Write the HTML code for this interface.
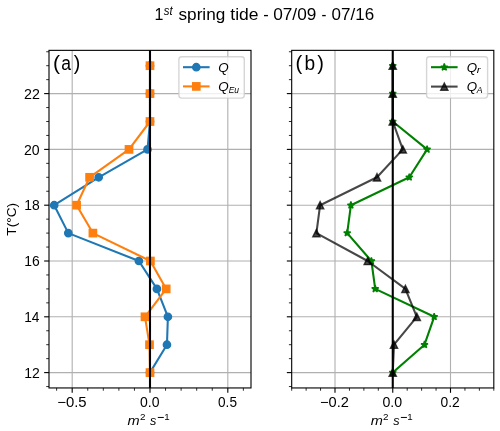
<!DOCTYPE html>
<html><head><meta charset="utf-8"><title>1st spring tide</title>
<style>
html,body{margin:0;padding:0;background:#fff;}
body{width:500px;height:431px;overflow:hidden;font-family:"Liberation Sans", sans-serif;}
svg{display:block;will-change:transform;}
</style></head><body>
<svg width="500" height="431" viewBox="0 0 500 431" font-family="'Liberation Sans', sans-serif">
<rect width="500" height="431" fill="#fff"/>
<line x1="72.19" y1="50.35" x2="72.19" y2="387.95" stroke="#b0b0b0" stroke-width="1.11"/>
<line x1="150" y1="50.35" x2="150" y2="387.95" stroke="#b0b0b0" stroke-width="1.11"/>
<line x1="227.81" y1="50.35" x2="227.81" y2="387.95" stroke="#b0b0b0" stroke-width="1.11"/>
<line x1="49" y1="372.6" x2="251" y2="372.6" stroke="#b0b0b0" stroke-width="1.11"/>
<line x1="49" y1="316.8" x2="251" y2="316.8" stroke="#b0b0b0" stroke-width="1.11"/>
<line x1="49" y1="261" x2="251" y2="261" stroke="#b0b0b0" stroke-width="1.11"/>
<line x1="49" y1="205.2" x2="251" y2="205.2" stroke="#b0b0b0" stroke-width="1.11"/>
<line x1="49" y1="149.4" x2="251" y2="149.4" stroke="#b0b0b0" stroke-width="1.11"/>
<line x1="49" y1="93.6" x2="251" y2="93.6" stroke="#b0b0b0" stroke-width="1.11"/>
<line x1="335" y1="50.35" x2="335" y2="387.95" stroke="#b0b0b0" stroke-width="1.11"/>
<line x1="392.75" y1="50.35" x2="392.75" y2="387.95" stroke="#b0b0b0" stroke-width="1.11"/>
<line x1="450.5" y1="50.35" x2="450.5" y2="387.95" stroke="#b0b0b0" stroke-width="1.11"/>
<line x1="291.69" y1="372.6" x2="493.81" y2="372.6" stroke="#b0b0b0" stroke-width="1.11"/>
<line x1="291.69" y1="316.8" x2="493.81" y2="316.8" stroke="#b0b0b0" stroke-width="1.11"/>
<line x1="291.69" y1="261" x2="493.81" y2="261" stroke="#b0b0b0" stroke-width="1.11"/>
<line x1="291.69" y1="205.2" x2="493.81" y2="205.2" stroke="#b0b0b0" stroke-width="1.11"/>
<line x1="291.69" y1="149.4" x2="493.81" y2="149.4" stroke="#b0b0b0" stroke-width="1.11"/>
<line x1="291.69" y1="93.6" x2="493.81" y2="93.6" stroke="#b0b0b0" stroke-width="1.11"/>
<polyline points="150,372.6 166.95,344.7 167.9,316.8 156.9,288.9 138.9,261 68.3,233.1 54.2,205.2 98.7,177.3 147.5,149.4 150,121.5 150,93.6 150,65.7" fill="none" stroke="#1f77b4" stroke-width="2.08" stroke-linejoin="round" stroke-linecap="square"/>
<circle cx="150" cy="372.6" r="3.65" fill="#1f77b4" stroke="#1f77b4" stroke-width="1.39"/>
<circle cx="166.95" cy="344.7" r="3.65" fill="#1f77b4" stroke="#1f77b4" stroke-width="1.39"/>
<circle cx="167.9" cy="316.8" r="3.65" fill="#1f77b4" stroke="#1f77b4" stroke-width="1.39"/>
<circle cx="156.9" cy="288.9" r="3.65" fill="#1f77b4" stroke="#1f77b4" stroke-width="1.39"/>
<circle cx="138.9" cy="261" r="3.65" fill="#1f77b4" stroke="#1f77b4" stroke-width="1.39"/>
<circle cx="68.3" cy="233.1" r="3.65" fill="#1f77b4" stroke="#1f77b4" stroke-width="1.39"/>
<circle cx="54.2" cy="205.2" r="3.65" fill="#1f77b4" stroke="#1f77b4" stroke-width="1.39"/>
<circle cx="98.7" cy="177.3" r="3.65" fill="#1f77b4" stroke="#1f77b4" stroke-width="1.39"/>
<circle cx="147.5" cy="149.4" r="3.65" fill="#1f77b4" stroke="#1f77b4" stroke-width="1.39"/>
<circle cx="150" cy="121.5" r="3.65" fill="#1f77b4" stroke="#1f77b4" stroke-width="1.39"/>
<circle cx="150" cy="93.6" r="3.65" fill="#1f77b4" stroke="#1f77b4" stroke-width="1.39"/>
<circle cx="150" cy="65.7" r="3.65" fill="#1f77b4" stroke="#1f77b4" stroke-width="1.39"/>
<polyline points="150,372.6 149.5,344.7 145,316.8 166.2,288.9 150.4,261 92.9,233.1 76.6,205.2 89.6,177.3 129,149.4 150,121.5 150,93.6 150,65.7" fill="none" stroke="#ff7f0e" stroke-width="2.08" stroke-linejoin="round" stroke-linecap="square"/>
<rect x="146.35" y="368.95" width="7.3" height="7.3" fill="#ff7f0e" stroke="#ff7f0e" stroke-width="1.39" stroke-linejoin="miter"/>
<rect x="145.85" y="341.05" width="7.3" height="7.3" fill="#ff7f0e" stroke="#ff7f0e" stroke-width="1.39" stroke-linejoin="miter"/>
<rect x="141.35" y="313.15" width="7.3" height="7.3" fill="#ff7f0e" stroke="#ff7f0e" stroke-width="1.39" stroke-linejoin="miter"/>
<rect x="162.55" y="285.25" width="7.3" height="7.3" fill="#ff7f0e" stroke="#ff7f0e" stroke-width="1.39" stroke-linejoin="miter"/>
<rect x="146.75" y="257.35" width="7.3" height="7.3" fill="#ff7f0e" stroke="#ff7f0e" stroke-width="1.39" stroke-linejoin="miter"/>
<rect x="89.25" y="229.45" width="7.3" height="7.3" fill="#ff7f0e" stroke="#ff7f0e" stroke-width="1.39" stroke-linejoin="miter"/>
<rect x="72.95" y="201.55" width="7.3" height="7.3" fill="#ff7f0e" stroke="#ff7f0e" stroke-width="1.39" stroke-linejoin="miter"/>
<rect x="85.95" y="173.65" width="7.3" height="7.3" fill="#ff7f0e" stroke="#ff7f0e" stroke-width="1.39" stroke-linejoin="miter"/>
<rect x="125.35" y="145.75" width="7.3" height="7.3" fill="#ff7f0e" stroke="#ff7f0e" stroke-width="1.39" stroke-linejoin="miter"/>
<rect x="146.35" y="117.85" width="7.3" height="7.3" fill="#ff7f0e" stroke="#ff7f0e" stroke-width="1.39" stroke-linejoin="miter"/>
<rect x="146.35" y="89.95" width="7.3" height="7.3" fill="#ff7f0e" stroke="#ff7f0e" stroke-width="1.39" stroke-linejoin="miter"/>
<rect x="146.35" y="62.05" width="7.3" height="7.3" fill="#ff7f0e" stroke="#ff7f0e" stroke-width="1.39" stroke-linejoin="miter"/>
<line x1="150" y1="50.35" x2="150" y2="387.95" stroke="#000" stroke-width="2.08"/>
<polyline points="392.75,372.6 424.5,344.7 434.2,316.8 375.2,288.9 371.4,261 347.2,233.1 350.9,205.2 409.3,177.3 427.1,149.4 392.75,121.5 392.75,93.6 392.75,65.7" fill="none" stroke="#008000" stroke-width="2.08" stroke-linejoin="round" stroke-linecap="square"/>
<polygon points="392.75,368.95 391.93,371.48 389.28,371.48 391.42,373.04 390.6,375.56 392.75,374 394.9,375.56 394.08,373.04 396.22,371.48 393.57,371.48" fill="#008000" stroke="#008000" stroke-width="1.39" stroke-linejoin="bevel"/>
<polygon points="424.5,341.05 423.68,343.58 421.03,343.58 423.17,345.13 422.35,347.66 424.5,346.1 426.65,347.66 425.83,345.13 427.97,343.58 425.32,343.58" fill="#008000" stroke="#008000" stroke-width="1.39" stroke-linejoin="bevel"/>
<polygon points="434.2,313.15 433.38,315.67 430.73,315.67 432.87,317.23 432.05,319.76 434.2,318.2 436.35,319.76 435.53,317.23 437.67,315.67 435.02,315.67" fill="#008000" stroke="#008000" stroke-width="1.39" stroke-linejoin="bevel"/>
<polygon points="375.2,285.25 374.38,287.77 371.73,287.77 373.87,289.33 373.05,291.85 375.2,290.3 377.35,291.85 376.53,289.33 378.67,287.77 376.02,287.77" fill="#008000" stroke="#008000" stroke-width="1.39" stroke-linejoin="bevel"/>
<polygon points="371.4,257.35 370.58,259.87 367.93,259.87 370.07,261.43 369.25,263.95 371.4,262.4 373.55,263.95 372.73,261.43 374.87,259.87 372.22,259.87" fill="#008000" stroke="#008000" stroke-width="1.39" stroke-linejoin="bevel"/>
<polygon points="347.2,229.45 346.38,231.97 343.73,231.97 345.87,233.53 345.05,236.05 347.2,234.49 349.35,236.05 348.53,233.53 350.67,231.97 348.02,231.97" fill="#008000" stroke="#008000" stroke-width="1.39" stroke-linejoin="bevel"/>
<polygon points="350.9,201.55 350.08,204.07 347.43,204.07 349.57,205.63 348.75,208.15 350.9,206.59 353.05,208.15 352.23,205.63 354.37,204.07 351.72,204.07" fill="#008000" stroke="#008000" stroke-width="1.39" stroke-linejoin="bevel"/>
<polygon points="409.3,173.65 408.48,176.17 405.83,176.17 407.97,177.73 407.15,180.25 409.3,178.69 411.45,180.25 410.63,177.73 412.77,176.17 410.12,176.17" fill="#008000" stroke="#008000" stroke-width="1.39" stroke-linejoin="bevel"/>
<polygon points="427.1,145.75 426.28,148.27 423.63,148.27 425.77,149.83 424.95,152.35 427.1,150.79 429.25,152.35 428.43,149.83 430.57,148.27 427.92,148.27" fill="#008000" stroke="#008000" stroke-width="1.39" stroke-linejoin="bevel"/>
<polygon points="392.75,117.85 391.93,120.37 389.28,120.37 391.42,121.93 390.6,124.45 392.75,122.89 394.9,124.45 394.08,121.93 396.22,120.37 393.57,120.37" fill="#008000" stroke="#008000" stroke-width="1.39" stroke-linejoin="bevel"/>
<polygon points="392.75,89.95 391.93,92.47 389.28,92.47 391.42,94.03 390.6,96.55 392.75,94.99 394.9,96.55 394.08,94.03 396.22,92.47 393.57,92.47" fill="#008000" stroke="#008000" stroke-width="1.39" stroke-linejoin="bevel"/>
<polygon points="392.75,62.05 391.93,64.57 389.28,64.57 391.42,66.13 390.6,68.65 392.75,67.09 394.9,68.65 394.08,66.13 396.22,64.57 393.57,64.57" fill="#008000" stroke="#008000" stroke-width="1.39" stroke-linejoin="bevel"/>
<polyline points="392.75,372.6 394,344.7 416.8,316.8 405.4,288.9 367.7,261 316.4,233.1 320.1,205.2 377,177.3 402.8,149.4 392.75,121.5 392.75,93.6 392.75,65.7" fill="none" stroke="#000" stroke-width="2.08" stroke-linejoin="round" stroke-linecap="square" stroke-opacity="0.72"/>
<polygon points="392.75,368.95 389.1,376.25 396.4,376.25" fill="#000" stroke="#000" stroke-width="1.39" stroke-linejoin="miter" fill-opacity="0.72" stroke-opacity="0.72"/>
<polygon points="394,341.05 390.35,348.35 397.65,348.35" fill="#000" stroke="#000" stroke-width="1.39" stroke-linejoin="miter" fill-opacity="0.72" stroke-opacity="0.72"/>
<polygon points="416.8,313.15 413.15,320.45 420.45,320.45" fill="#000" stroke="#000" stroke-width="1.39" stroke-linejoin="miter" fill-opacity="0.72" stroke-opacity="0.72"/>
<polygon points="405.4,285.25 401.75,292.55 409.05,292.55" fill="#000" stroke="#000" stroke-width="1.39" stroke-linejoin="miter" fill-opacity="0.72" stroke-opacity="0.72"/>
<polygon points="367.7,257.35 364.05,264.65 371.35,264.65" fill="#000" stroke="#000" stroke-width="1.39" stroke-linejoin="miter" fill-opacity="0.72" stroke-opacity="0.72"/>
<polygon points="316.4,229.45 312.75,236.75 320.05,236.75" fill="#000" stroke="#000" stroke-width="1.39" stroke-linejoin="miter" fill-opacity="0.72" stroke-opacity="0.72"/>
<polygon points="320.1,201.55 316.45,208.85 323.75,208.85" fill="#000" stroke="#000" stroke-width="1.39" stroke-linejoin="miter" fill-opacity="0.72" stroke-opacity="0.72"/>
<polygon points="377,173.65 373.35,180.95 380.65,180.95" fill="#000" stroke="#000" stroke-width="1.39" stroke-linejoin="miter" fill-opacity="0.72" stroke-opacity="0.72"/>
<polygon points="402.8,145.75 399.15,153.05 406.45,153.05" fill="#000" stroke="#000" stroke-width="1.39" stroke-linejoin="miter" fill-opacity="0.72" stroke-opacity="0.72"/>
<polygon points="392.75,117.85 389.1,125.15 396.4,125.15" fill="#000" stroke="#000" stroke-width="1.39" stroke-linejoin="miter" fill-opacity="0.72" stroke-opacity="0.72"/>
<polygon points="392.75,89.95 389.1,97.25 396.4,97.25" fill="#000" stroke="#000" stroke-width="1.39" stroke-linejoin="miter" fill-opacity="0.72" stroke-opacity="0.72"/>
<polygon points="392.75,62.05 389.1,69.35 396.4,69.35" fill="#000" stroke="#000" stroke-width="1.39" stroke-linejoin="miter" fill-opacity="0.72" stroke-opacity="0.72"/>
<line x1="392.75" y1="50.35" x2="392.75" y2="387.95" stroke="#000" stroke-width="2.08"/>
<line x1="72.19" y1="387.95" x2="72.19" y2="392.81" stroke="#000" stroke-width="1.11"/>
<line x1="150" y1="387.95" x2="150" y2="392.81" stroke="#000" stroke-width="1.11"/>
<line x1="227.81" y1="387.95" x2="227.81" y2="392.81" stroke="#000" stroke-width="1.11"/>
<line x1="56.63" y1="387.95" x2="56.63" y2="390.73" stroke="#000" stroke-width="0.83"/>
<line x1="87.75" y1="387.95" x2="87.75" y2="390.73" stroke="#000" stroke-width="0.83"/>
<line x1="103.31" y1="387.95" x2="103.31" y2="390.73" stroke="#000" stroke-width="0.83"/>
<line x1="118.88" y1="387.95" x2="118.88" y2="390.73" stroke="#000" stroke-width="0.83"/>
<line x1="134.44" y1="387.95" x2="134.44" y2="390.73" stroke="#000" stroke-width="0.83"/>
<line x1="165.56" y1="387.95" x2="165.56" y2="390.73" stroke="#000" stroke-width="0.83"/>
<line x1="181.12" y1="387.95" x2="181.12" y2="390.73" stroke="#000" stroke-width="0.83"/>
<line x1="196.69" y1="387.95" x2="196.69" y2="390.73" stroke="#000" stroke-width="0.83"/>
<line x1="212.25" y1="387.95" x2="212.25" y2="390.73" stroke="#000" stroke-width="0.83"/>
<line x1="243.37" y1="387.95" x2="243.37" y2="390.73" stroke="#000" stroke-width="0.83"/>
<line x1="49" y1="372.6" x2="44.14" y2="372.6" stroke="#000" stroke-width="1.11"/>
<line x1="49" y1="316.8" x2="44.14" y2="316.8" stroke="#000" stroke-width="1.11"/>
<line x1="49" y1="261" x2="44.14" y2="261" stroke="#000" stroke-width="1.11"/>
<line x1="49" y1="205.2" x2="44.14" y2="205.2" stroke="#000" stroke-width="1.11"/>
<line x1="49" y1="149.4" x2="44.14" y2="149.4" stroke="#000" stroke-width="1.11"/>
<line x1="49" y1="93.6" x2="44.14" y2="93.6" stroke="#000" stroke-width="1.11"/>
<line x1="49" y1="386.55" x2="46.22" y2="386.55" stroke="#000" stroke-width="0.83"/>
<line x1="49" y1="358.65" x2="46.22" y2="358.65" stroke="#000" stroke-width="0.83"/>
<line x1="49" y1="344.7" x2="46.22" y2="344.7" stroke="#000" stroke-width="0.83"/>
<line x1="49" y1="330.75" x2="46.22" y2="330.75" stroke="#000" stroke-width="0.83"/>
<line x1="49" y1="302.85" x2="46.22" y2="302.85" stroke="#000" stroke-width="0.83"/>
<line x1="49" y1="288.9" x2="46.22" y2="288.9" stroke="#000" stroke-width="0.83"/>
<line x1="49" y1="274.95" x2="46.22" y2="274.95" stroke="#000" stroke-width="0.83"/>
<line x1="49" y1="247.05" x2="46.22" y2="247.05" stroke="#000" stroke-width="0.83"/>
<line x1="49" y1="233.1" x2="46.22" y2="233.1" stroke="#000" stroke-width="0.83"/>
<line x1="49" y1="219.15" x2="46.22" y2="219.15" stroke="#000" stroke-width="0.83"/>
<line x1="49" y1="191.25" x2="46.22" y2="191.25" stroke="#000" stroke-width="0.83"/>
<line x1="49" y1="177.3" x2="46.22" y2="177.3" stroke="#000" stroke-width="0.83"/>
<line x1="49" y1="163.35" x2="46.22" y2="163.35" stroke="#000" stroke-width="0.83"/>
<line x1="49" y1="135.45" x2="46.22" y2="135.45" stroke="#000" stroke-width="0.83"/>
<line x1="49" y1="121.5" x2="46.22" y2="121.5" stroke="#000" stroke-width="0.83"/>
<line x1="49" y1="107.55" x2="46.22" y2="107.55" stroke="#000" stroke-width="0.83"/>
<line x1="49" y1="79.65" x2="46.22" y2="79.65" stroke="#000" stroke-width="0.83"/>
<line x1="49" y1="65.7" x2="46.22" y2="65.7" stroke="#000" stroke-width="0.83"/>
<line x1="49" y1="51.75" x2="46.22" y2="51.75" stroke="#000" stroke-width="0.83"/>
<rect x="49" y="50.35" width="202" height="337.6" fill="none" stroke="#000" stroke-width="1.11" stroke-linejoin="miter" stroke-linecap="square"/>
<line x1="335" y1="387.95" x2="335" y2="392.81" stroke="#000" stroke-width="1.11"/>
<line x1="392.75" y1="387.95" x2="392.75" y2="392.81" stroke="#000" stroke-width="1.11"/>
<line x1="450.5" y1="387.95" x2="450.5" y2="392.81" stroke="#000" stroke-width="1.11"/>
<line x1="291.69" y1="387.95" x2="291.69" y2="390.73" stroke="#000" stroke-width="0.83"/>
<line x1="306.13" y1="387.95" x2="306.13" y2="390.73" stroke="#000" stroke-width="0.83"/>
<line x1="320.56" y1="387.95" x2="320.56" y2="390.73" stroke="#000" stroke-width="0.83"/>
<line x1="349.44" y1="387.95" x2="349.44" y2="390.73" stroke="#000" stroke-width="0.83"/>
<line x1="363.88" y1="387.95" x2="363.88" y2="390.73" stroke="#000" stroke-width="0.83"/>
<line x1="378.31" y1="387.95" x2="378.31" y2="390.73" stroke="#000" stroke-width="0.83"/>
<line x1="407.19" y1="387.95" x2="407.19" y2="390.73" stroke="#000" stroke-width="0.83"/>
<line x1="421.62" y1="387.95" x2="421.62" y2="390.73" stroke="#000" stroke-width="0.83"/>
<line x1="436.06" y1="387.95" x2="436.06" y2="390.73" stroke="#000" stroke-width="0.83"/>
<line x1="464.94" y1="387.95" x2="464.94" y2="390.73" stroke="#000" stroke-width="0.83"/>
<line x1="479.37" y1="387.95" x2="479.37" y2="390.73" stroke="#000" stroke-width="0.83"/>
<line x1="493.81" y1="387.95" x2="493.81" y2="390.73" stroke="#000" stroke-width="0.83"/>
<line x1="291.69" y1="372.6" x2="286.83" y2="372.6" stroke="#000" stroke-width="1.11"/>
<line x1="291.69" y1="316.8" x2="286.83" y2="316.8" stroke="#000" stroke-width="1.11"/>
<line x1="291.69" y1="261" x2="286.83" y2="261" stroke="#000" stroke-width="1.11"/>
<line x1="291.69" y1="205.2" x2="286.83" y2="205.2" stroke="#000" stroke-width="1.11"/>
<line x1="291.69" y1="149.4" x2="286.83" y2="149.4" stroke="#000" stroke-width="1.11"/>
<line x1="291.69" y1="93.6" x2="286.83" y2="93.6" stroke="#000" stroke-width="1.11"/>
<line x1="291.69" y1="386.55" x2="288.91" y2="386.55" stroke="#000" stroke-width="0.83"/>
<line x1="291.69" y1="358.65" x2="288.91" y2="358.65" stroke="#000" stroke-width="0.83"/>
<line x1="291.69" y1="344.7" x2="288.91" y2="344.7" stroke="#000" stroke-width="0.83"/>
<line x1="291.69" y1="330.75" x2="288.91" y2="330.75" stroke="#000" stroke-width="0.83"/>
<line x1="291.69" y1="302.85" x2="288.91" y2="302.85" stroke="#000" stroke-width="0.83"/>
<line x1="291.69" y1="288.9" x2="288.91" y2="288.9" stroke="#000" stroke-width="0.83"/>
<line x1="291.69" y1="274.95" x2="288.91" y2="274.95" stroke="#000" stroke-width="0.83"/>
<line x1="291.69" y1="247.05" x2="288.91" y2="247.05" stroke="#000" stroke-width="0.83"/>
<line x1="291.69" y1="233.1" x2="288.91" y2="233.1" stroke="#000" stroke-width="0.83"/>
<line x1="291.69" y1="219.15" x2="288.91" y2="219.15" stroke="#000" stroke-width="0.83"/>
<line x1="291.69" y1="191.25" x2="288.91" y2="191.25" stroke="#000" stroke-width="0.83"/>
<line x1="291.69" y1="177.3" x2="288.91" y2="177.3" stroke="#000" stroke-width="0.83"/>
<line x1="291.69" y1="163.35" x2="288.91" y2="163.35" stroke="#000" stroke-width="0.83"/>
<line x1="291.69" y1="135.45" x2="288.91" y2="135.45" stroke="#000" stroke-width="0.83"/>
<line x1="291.69" y1="121.5" x2="288.91" y2="121.5" stroke="#000" stroke-width="0.83"/>
<line x1="291.69" y1="107.55" x2="288.91" y2="107.55" stroke="#000" stroke-width="0.83"/>
<line x1="291.69" y1="79.65" x2="288.91" y2="79.65" stroke="#000" stroke-width="0.83"/>
<line x1="291.69" y1="65.7" x2="288.91" y2="65.7" stroke="#000" stroke-width="0.83"/>
<line x1="291.69" y1="51.75" x2="288.91" y2="51.75" stroke="#000" stroke-width="0.83"/>
<rect x="291.69" y="50.35" width="202.12" height="337.6" fill="none" stroke="#000" stroke-width="1.11" stroke-linejoin="miter" stroke-linecap="square"/>
<rect x="178.9" y="56.7" width="65.4" height="41.4" rx="2.8" ry="2.8" fill="#fff" fill-opacity="0.8" stroke="#cccccc" stroke-opacity="0.8" stroke-width="1.39"/>
<line x1="183" y1="67.2" x2="209.6" y2="67.2" stroke="#1f77b4" stroke-width="2.08"/>
<circle cx="196.3" cy="67.2" r="3.65" fill="#1f77b4" stroke="#1f77b4" stroke-width="1.39"/>
<line x1="183" y1="86.4" x2="209.6" y2="86.4" stroke="#ff7f0e" stroke-width="2.08"/>
<rect x="192.65" y="82.75" width="7.3" height="7.3" fill="#ff7f0e" stroke="#ff7f0e" stroke-width="1.39" stroke-linejoin="miter"/>
<rect x="426.6" y="56.7" width="61" height="41.4" rx="2.8" ry="2.8" fill="#fff" fill-opacity="0.8" stroke="#cccccc" stroke-opacity="0.8" stroke-width="1.39"/>
<line x1="431" y1="67.2" x2="457.6" y2="67.2" stroke="#008000" stroke-width="2.08"/>
<polygon points="444.3,63.55 443.48,66.07 440.83,66.07 442.97,67.63 442.15,70.15 444.3,68.59 446.45,70.15 445.63,67.63 447.77,66.07 445.12,66.07" fill="#008000" stroke="#008000" stroke-width="1.39" stroke-linejoin="bevel"/>
<line x1="431" y1="86.6" x2="457.6" y2="86.6" stroke="#000" stroke-width="2.08" stroke-opacity="0.72"/>
<polygon points="444.3,82.95 440.65,90.25 447.95,90.25" fill="#000" stroke="#000" stroke-width="1.39" stroke-linejoin="miter" fill-opacity="0.72" stroke-opacity="0.72"/>
<text x="24.24" y="377.75" font-size="13.75" textLength="15.57" lengthAdjust="spacingAndGlyphs">12</text>
<text x="24.26" y="321.95" font-size="13.75" textLength="15.24" lengthAdjust="spacingAndGlyphs">14</text>
<text x="24.24" y="266.15" font-size="13.75" textLength="15.47" lengthAdjust="spacingAndGlyphs">16</text>
<text x="24.24" y="210.35" font-size="13.75" textLength="15.46" lengthAdjust="spacingAndGlyphs">18</text>
<text x="24" y="154.55" font-size="13.75" textLength="15.66" lengthAdjust="spacingAndGlyphs">20</text>
<text x="23.99" y="98.75" font-size="13.75" textLength="15.83" lengthAdjust="spacingAndGlyphs">22</text>
<text x="57.27" y="407" font-size="14.1" textLength="29.36" lengthAdjust="spacingAndGlyphs">−0.5</text>
<text x="140.05" y="407" font-size="14.1" textLength="19.5" lengthAdjust="spacingAndGlyphs">0.0</text>
<text x="218.07" y="407" font-size="14.1" textLength="18.9" lengthAdjust="spacingAndGlyphs">0.5</text>
<text x="320.08" y="407" font-size="14.1" textLength="28.85" lengthAdjust="spacingAndGlyphs">−0.2</text>
<text x="382.45" y="407" font-size="14.1" textLength="19.71" lengthAdjust="spacingAndGlyphs">0.0</text>
<text x="440.46" y="407" font-size="14.1" textLength="19.23" lengthAdjust="spacingAndGlyphs">0.2</text>
<text x="127.55" y="425" font-size="13.4" font-style="italic" textLength="12.12" lengthAdjust="spacingAndGlyphs">m</text>
<text x="140.01" y="419.9" font-size="9.6" textLength="5.49" lengthAdjust="spacingAndGlyphs">2</text>
<text x="150.06" y="425" font-size="13.4" font-style="italic" textLength="6.3" lengthAdjust="spacingAndGlyphs">s</text>
<rect x="157.8" y="416.95" width="6" height="1.05" fill="#111"/>
<text x="164.16" y="419.8" font-size="9.45" textLength="5.42" lengthAdjust="spacingAndGlyphs">1</text>
<text x="370.65" y="425" font-size="13.4" font-style="italic" textLength="12.12" lengthAdjust="spacingAndGlyphs">m</text>
<text x="383.11" y="419.9" font-size="9.6" textLength="5.49" lengthAdjust="spacingAndGlyphs">2</text>
<text x="393.16" y="425" font-size="13.4" font-style="italic" textLength="6.3" lengthAdjust="spacingAndGlyphs">s</text>
<rect x="400.9" y="416.95" width="6" height="1.05" fill="#111"/>
<text x="407.26" y="419.8" font-size="9.45" textLength="5.42" lengthAdjust="spacingAndGlyphs">1</text>
<text transform="translate(15.7,235.7) rotate(-90)" font-size="13.1" textLength="32.85" lengthAdjust="spacingAndGlyphs">T(°C)</text>
<text x="53.09" y="69.8" font-size="19.5" textLength="7.04" lengthAdjust="spacingAndGlyphs">(</text>
<text x="61.26" y="69.8" font-size="19.5" textLength="9.74" lengthAdjust="spacingAndGlyphs">a</text>
<text x="73.68" y="69.8" font-size="19.5" textLength="6.53" lengthAdjust="spacingAndGlyphs">)</text>
<text x="295.64" y="69.8" font-size="19.5" textLength="6.79" lengthAdjust="spacingAndGlyphs">(</text>
<text x="304.56" y="69.8" font-size="19.5" textLength="10.65" lengthAdjust="spacingAndGlyphs">b</text>
<text x="317.38" y="69.8" font-size="19.5" textLength="6.66" lengthAdjust="spacingAndGlyphs">)</text>
<text x="218.19" y="72.1" font-size="13.5" font-style="italic" textLength="10.45" lengthAdjust="spacingAndGlyphs">Q</text>
<text x="218.19" y="91" font-size="13.5" font-style="italic" textLength="10.45" lengthAdjust="spacingAndGlyphs">Q</text>
<text x="228.74" y="92.8" font-size="9.2" font-style="italic" textLength="10.33" lengthAdjust="spacingAndGlyphs">Eu</text>
<text x="466.65" y="72.1" font-size="13.5" font-style="italic" textLength="10.39" lengthAdjust="spacingAndGlyphs">Q</text>
<text x="476.8" y="73.4" font-size="9.3" font-style="italic" textLength="3.9" lengthAdjust="spacingAndGlyphs">r</text>
<text x="466.65" y="91" font-size="13.5" font-style="italic" textLength="10.39" lengthAdjust="spacingAndGlyphs">Q</text>
<text x="476.83" y="92.5" font-size="9.2" font-style="italic" textLength="5.84" lengthAdjust="spacingAndGlyphs">A</text>
<text x="154.48" y="20" font-size="16.57" textLength="8.9" lengthAdjust="spacingAndGlyphs">1</text>
<text x="163.87" y="14.6" font-size="12.5" font-style="italic" textLength="8.85" lengthAdjust="spacingAndGlyphs">st</text>
<text x="178.52" y="19.9" font-size="16.3" textLength="46.77" lengthAdjust="spacingAndGlyphs">spring</text>
<text x="230.34" y="19.9" font-size="16.3" textLength="28.24" lengthAdjust="spacingAndGlyphs">tide</text>
<text x="263.28" y="19.9" font-size="16.3" textLength="5.44" lengthAdjust="spacingAndGlyphs">-</text>
<text x="273.23" y="19.9" font-size="16.3" textLength="43.09" lengthAdjust="spacingAndGlyphs">07/09</text>
<text x="321.45" y="19.9" font-size="16.3" textLength="4.89" lengthAdjust="spacingAndGlyphs">-</text>
<text x="331.64" y="19.9" font-size="16.3" textLength="42.52" lengthAdjust="spacingAndGlyphs">07/16</text>
</svg>
</body></html>
